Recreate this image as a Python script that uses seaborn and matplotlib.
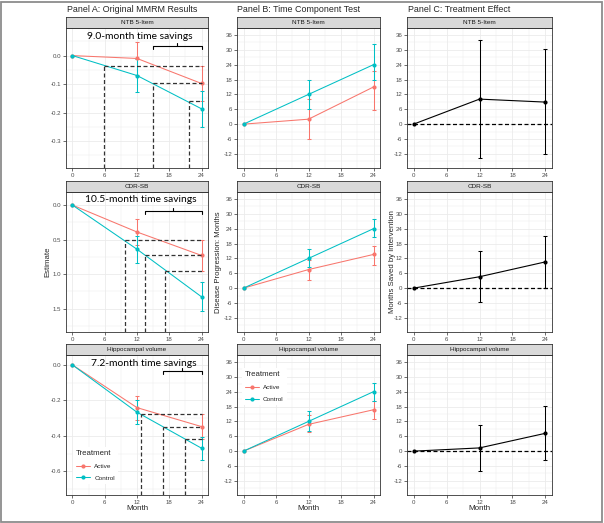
import pandas as pd
import seaborn as sns
import matplotlib.pyplot as plt
from matplotlib.patches import Rectangle
from matplotlib.ticker import MultipleLocator, FormatStrFormatter

# ---- data ----
months = [0, 12, 24]
outcomes = ["NTB 5-Item", "CDR-SB", "Hippocampal volume"]

# Panel A: original MMRM estimates with 95% CI
a_active = [[0, -0.010, -0.098], [0, 0.39, 0.73], [0, -0.241, -0.348]]
a_active_lo = [[0, -0.069, -0.161], [0, 0.20, 0.51], [0, -0.309, -0.417]]
a_active_hi = [[0, 0.049, -0.035], [0, 0.58, 0.95], [0, -0.173, -0.279]]
a_control = [[0, -0.070, -0.187], [0, 0.64, 1.33], [0, -0.267, -0.470]]
a_control_lo = [[0, -0.128, -0.250], [0, 0.45, 1.12], [0, -0.333, -0.537]]
a_control_hi = [[0, -0.012, -0.124], [0, 0.84, 1.54], [0, -0.200, -0.405]]

# month at which control reaches the active 24-month value (upper CI, estimate, lower CI)
equiv_month = [[5.8, 15.0, 21.7], [9.7, 13.5, 17.2], [12.7, 16.8, 20.9]]
equiv_level = [[-0.035, -0.098, -0.161], [0.51, 0.73, 0.95], [-0.279, -0.348, -0.417]]
savings_text = ["9.0-month time savings", "10.5-month time savings", "7.2-month time savings"]

# Panel B: disease progression in months
b_active = [[0, 2.0, 15.0], [0, 7.5, 13.6], [0, 10.8, 16.7]]
b_active_lo = [[0, -6.0, 5.8], [0, 3.4, 9.5], [0, 7.8, 12.9]]
b_active_hi = [[0, 10.0, 21.6], [0, 11.4, 17.2], [0, 14.5, 20.3]]
b_control = [[0, 12, 24], [0, 12, 24], [0, 12, 24]]
b_control_lo = [[0, 6.0, 17.7], [0, 8.5, 20.5], [0, 8.3, 20.2]]
b_control_hi = [[0, 17.9, 32.2], [0, 15.6, 27.8], [0, 16.1, 27.3]]

# Panel C: months saved by intervention
c_est = [[0, 10.1, 8.9], [0, 4.6, 10.6], [0, 1.3, 7.2]]
c_lo = [[0, -13.7, -12.2], [0, -5.4, 0.2], [0, -8.0, -3.5]]
c_hi = [[0, 33.9, 30.2], [0, 14.9, 20.9], [0, 10.7, 18.1]]

# ---- style ----
sns.set_style("white")
plt.rcParams["font.family"] = ["Liberation Sans", "DejaVu Sans"]
plt.rcParams["axes.unicode_minus"] = False

pal = {"Active": "#F8766D", "Control": "#00BFC4"}
W, H = 604, 523
fig = plt.figure(figsize=(W / 100, H / 100), dpi=100)

col_x = [(66, 208), (237, 380), (407, 552)]
row_y = [(28, 168), (192, 332), (355, 495)]
strip_h = 11


def px_axes(x0, y0, x1, y1):
    return fig.add_axes([x0 / W, 1 - y1 / H, (x1 - x0) / W, (y1 - y0) / H])


def style(ax, ylim, major, fmt):
    ax.set_xlim(-1.2, 25.2)
    ax.set_ylim(ylim)
    ax.xaxis.set_major_locator(MultipleLocator(6))
    ax.xaxis.set_minor_locator(MultipleLocator(3))
    ax.yaxis.set_major_locator(MultipleLocator(major))
    ax.yaxis.set_minor_locator(MultipleLocator(major / 2))
    ax.yaxis.set_major_formatter(FormatStrFormatter(fmt))
    ax.grid(which="major", color="#EBEBEB", lw=0.6)
    ax.grid(which="minor", color="#EBEBEB", lw=0.35)
    ax.set_axisbelow(True)
    for s in ax.spines.values():
        s.set_color("#333333")
        s.set_linewidth(0.6)
    ax.tick_params(which="major", length=2.2, width=0.5, color="#333333",
                   labelsize=4.4, labelcolor="#4D4D4D", pad=1.2,
                   left=True, bottom=True)
    ax.tick_params(which="minor", length=0)
    ax.set_xlabel("")
    ax.set_ylabel("")


def strip(x0, x1, y0, label):
    s = px_axes(x0, y0 - strip_h, x1, y0)
    s.set_facecolor("#D9D9D9")
    s.set_xticks([])
    s.set_yticks([])
    for sp in s.spines.values():
        sp.set_color("#333333")
        sp.set_linewidth(0.6)
    s.text(0.5, 0.5, label, ha="center", va="center", fontsize=4.6, color="#1A1A1A")


def ci(ax, est, lo, hi, color):
    e = est[1:]
    yerr = [[abs(a - b) for a, b in zip(e, lo[1:])], [abs(b - a) for a, b in zip(e, hi[1:])]]
    ax.errorbar(months[1:], e, yerr=yerr, fmt="none", ecolor=color,
                elinewidth=0.75, capsize=1.5, capthick=0.75, zorder=2)


def two_arm(ax, act, act_lo, act_hi, ctl, ctl_lo, ctl_hi, show_legend):
    df = pd.DataFrame({
        "Month": months * 2,
        "Estimate": act + ctl,
        "Treatment": ["Active"] * 3 + ["Control"] * 3,
    })
    sns.lineplot(data=df, x="Month", y="Estimate", hue="Treatment", palette=pal,
                 marker="o", markersize=3, markeredgewidth=0, linewidth=0.75,
                 ax=ax, legend=show_legend, zorder=3)
    ci(ax, act, act_lo, act_hi, pal["Active"])
    ci(ax, ctl, ctl_lo, ctl_hi, pal["Control"])


def add_legend(ax, anchor):
    ax.legend(title="Treatment", loc="upper left", bbox_to_anchor=anchor,
              fontsize=4.6, title_fontsize=5.6, frameon=True, facecolor="white",
              edgecolor="none", framealpha=1, alignment="left", handlelength=2.2,
              borderaxespad=0, borderpad=0.5, labelspacing=1.0, handletextpad=0.6)


a_ylims = [(-0.395, 0.097), (1.84, -0.19), (-0.734, 0.056)]
a_major = [0.1, 0.5, 0.2]
bc_ylim = (-17.7, 38.8)
bracket_y = [0.871, 0.866, 0.886]
text_y = [0.938, 0.95, 0.941]
text_x = [12.5, 12.7, 13.2]
legend_anchor = [(0.05, 0.345), (0.035, 0.905)]

for r in range(3):
    y0, y1 = row_y[r]

    # ---- Panel A ----
    ax = px_axes(col_x[0][0], y0, col_x[0][1], y1)
    two_arm(ax, a_active[r], a_active_lo[r], a_active_hi[r],
            a_control[r], a_control_lo[r], a_control_hi[r], r == 2)
    bottom = a_ylims[r][0]
    for m, lev in zip(equiv_month[r], equiv_level[r]):
        ax.plot([m, m], [bottom, lev], color="#333333", lw=0.9, ls=(0, (3.2, 2)), zorder=4)
        ax.plot([m, 24], [lev, lev], color="#333333", lw=0.9, ls=(0, (3.2, 2)), zorder=4)
    tr = ax.get_xaxis_transform()
    m0 = equiv_month[r][1]
    by = bracket_y[r]
    ax.plot([m0, m0, 24, 24], [by - 0.022, by, by, by - 0.022], color="black", lw=0.8, transform=tr)
    mid = (m0 + 24) / 2
    ax.plot([mid, mid], [by, by + 0.022], color="black", lw=0.8, transform=tr)
    ax.text(text_x[r], text_y[r], savings_text[r], transform=tr, ha="center", va="center",
            fontsize=7.4, family=["Lato", "DejaVu Sans"], color="black")
    style(ax, a_ylims[r], a_major[r], "%.1f")
    strip(col_x[0][0], col_x[0][1], y0, outcomes[r])
    if r == 2:
        add_legend(ax, legend_anchor[0])

    # ---- Panel B ----
    ax = px_axes(col_x[1][0], y0, col_x[1][1], y1)
    two_arm(ax, b_active[r], b_active_lo[r], b_active_hi[r],
            b_control[r], b_control_lo[r], b_control_hi[r], r == 2)
    style(ax, bc_ylim, 6, "%d")
    strip(col_x[1][0], col_x[1][1], y0, outcomes[r])
    if r == 2:
        add_legend(ax, legend_anchor[1])

    # ---- Panel C ----
    ax = px_axes(col_x[2][0], y0, col_x[2][1], y1)
    ax.axhline(0, color="black", lw=0.9, ls=(0, (3.2, 2)), zorder=1)
    sns.lineplot(x=months, y=c_est[r], color="black", marker="o", markersize=3,
                 markeredgewidth=0, linewidth=0.8, ax=ax, zorder=3)
    ci(ax, c_est[r], c_lo[r], c_hi[r], "black")
    style(ax, bc_ylim, 6, "%d")
    strip(col_x[2][0], col_x[2][1], y0, outcomes[r])

# ---- titles and axis labels ----
fig.text(67 / W, 1 - 9 / H, "Panel A: Original MMRM Results", fontsize=6.4, va="center", ha="left")
fig.text(237 / W, 1 - 9 / H, "Panel B: Time Component Test", fontsize=6.4, va="center", ha="left")
fig.text(408 / W, 1 - 9 / H, "Panel C: Treatment Effect", fontsize=6.4, va="center", ha="left")

fig.text(47.5 / W, 1 - 262 / H, "Estimate", rotation=90, fontsize=5.6, va="center", ha="center")
fig.text(219 / W, 1 - 262 / H, "Disease Progression: Months", rotation=90, fontsize=5.6, va="center", ha="center")
fig.text(392.5 / W, 1 - 262 / H, "Months Saved by Intervention", rotation=90, fontsize=5.6, va="center", ha="center")
for x0, x1 in col_x:
    fig.text((x0 + x1) / 2 / W, 1 - 508 / H, "Month", fontsize=5.8, va="center", ha="center")

fig.patches.append(Rectangle((0.001, 0.002), 0.996, 0.995, transform=fig.transFigure,
                             fill=False, edgecolor="#8C8C8C", lw=1.3))

fig.savefig("out.png", dpi=100)
